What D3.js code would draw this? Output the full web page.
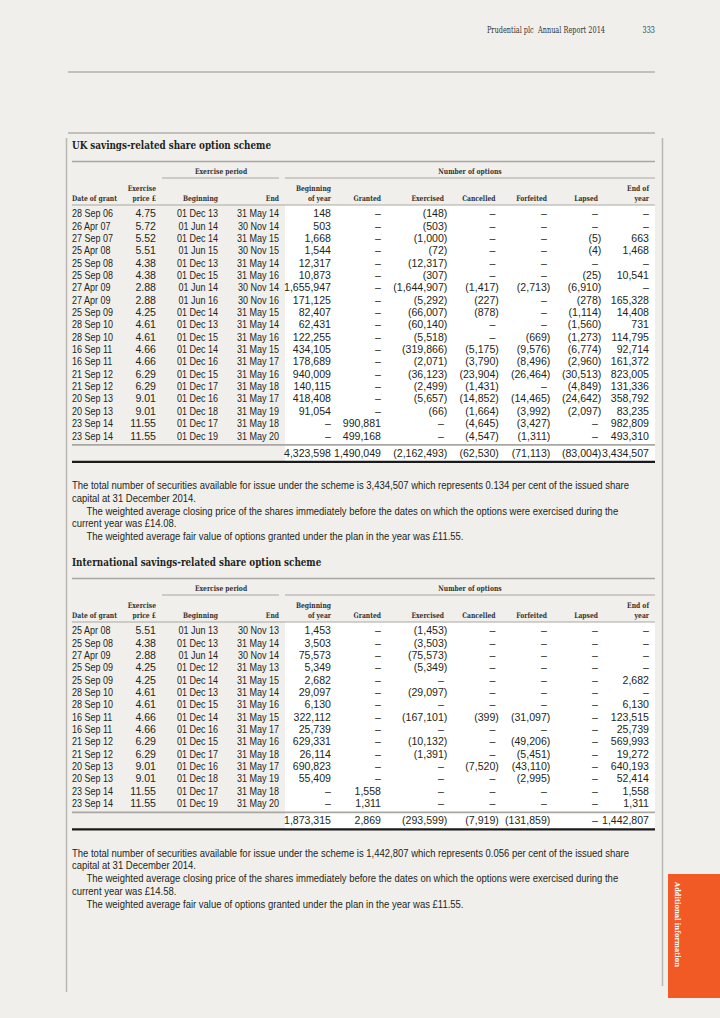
<!DOCTYPE html>
<html>
<head>
<meta charset="utf-8">
<script src="https://cdn.jsdelivr.net/npm/d3@7"></script>
<style>
body{margin:0;background:#f0efeb;}
svg{display:block;}
.num,.date{font-family:"Liberation Sans",Arial,sans-serif;font-size:10.7px;fill:#231f20;}
.para{font-family:"Liberation Sans",Arial,sans-serif;font-size:10.3px;fill:#231f20;}
.head{font-family:"DejaVu Serif",serif;font-weight:bold;font-size:7.6px;fill:#333;}
.title{font-family:"DejaVu Serif",serif;font-weight:bold;font-size:10.8px;fill:#231f20;}
.running{font-family:"DejaVu Serif",serif;font-size:8.4px;fill:#333;}
.tab{font-family:"DejaVu Serif",serif;font-weight:bold;font-size:8px;fill:#fff;}
</style>
</head>
<body>
<div class="top"></div>
<script>
// ---- UK savings-related share option scheme
const ukGrant = ['28 Sep 06','26 Apr 07','27 Sep 07','25 Apr 08','25 Sep 08','25 Sep 08','27 Apr 09','27 Apr 09','25 Sep 09','28 Sep 10','28 Sep 10','16 Sep 11','16 Sep 11','21 Sep 12','21 Sep 12','20 Sep 13','20 Sep 13','23 Sep 14','23 Sep 14']
const ukPrice = [4.75,5.72,5.52,5.51,4.38,4.38,2.88,2.88,4.25,4.61,4.61,4.66,4.66,6.29,6.29,9.01,9.01,11.55,11.55]
const ukBegin = ['01 Dec 13','01 Jun 14','01 Dec 14','01 Jun 15','01 Dec 13','01 Dec 15','01 Jun 14','01 Jun 16','01 Dec 14','01 Dec 13','01 Dec 15','01 Dec 14','01 Dec 16','01 Dec 15','01 Dec 17','01 Dec 16','01 Dec 18','01 Dec 17','01 Dec 19']
const ukEnd = ['31 May 14','30 Nov 14','31 May 15','30 Nov 15','31 May 14','31 May 16','30 Nov 14','30 Nov 16','31 May 15','31 May 14','31 May 16','31 May 15','31 May 17','31 May 16','31 May 18','31 May 17','31 May 19','31 May 18','31 May 20']
const ukBoy = [148,503,1668,1544,12317,10873,1655947,171125,82407,62431,122255,434105,178689,940009,140115,418408,91054,null,null]
const ukGranted = [null,null,null,null,null,null,null,null,null,null,null,null,null,null,null,null,null,990881,499168]
const ukExercised = [-148,-503,-1000,-72,-12317,-307,-1644907,-5292,-66007,-60140,-5518,-319866,-2071,-36123,-2499,-5657,-66,null,null]
const ukCancelled = [null,null,null,null,null,null,-1417,-227,-878,null,null,-5175,-3790,-23904,-1431,-14852,-1664,-4645,-4547]
const ukForfeited = [null,null,null,null,null,null,-2713,null,null,null,-669,-9576,-8496,-26464,null,-14465,-3992,-3427,-1311]
const ukLapsed = [null,null,-5,-4,null,-25,-6910,-278,-1114,-1560,-1273,-6774,-2960,-30513,-4849,-24642,-2097,null,null]
const ukEoy = [null,null,663,1468,null,10541,null,165328,14408,731,114795,92714,161372,823005,131336,358792,83235,982809,493310]
const ukTotals = [4323598,1490049,-2162493,-62530,-71113,-83004,3434507]
const ukNotes = [
	['The total number of securities available for issue under the scheme is 3,434,507 which represents 0.134 per cent of the issued share',0],
	['capital at 31 December 2014.',0],
	['The weighted average closing price of the shares immediately before the dates on which the options were exercised during the',1],
	['current year was £14.08.',0],
	['The weighted average fair value of options granted under the plan in the year was £11.55.',1]
]

// ---- International savings-related share option scheme
const intGrant = ['25 Apr 08','25 Sep 08','27 Apr 09','25 Sep 09','25 Sep 09','28 Sep 10','28 Sep 10','16 Sep 11','16 Sep 11','21 Sep 12','21 Sep 12','20 Sep 13','20 Sep 13','23 Sep 14','23 Sep 14']
const intPrice = [5.51,4.38,2.88,4.25,4.25,4.61,4.61,4.66,4.66,6.29,6.29,9.01,9.01,11.55,11.55]
const intBegin = ['01 Jun 13','01 Dec 13','01 Jun 14','01 Dec 12','01 Dec 14','01 Dec 13','01 Dec 15','01 Dec 14','01 Dec 16','01 Dec 15','01 Dec 17','01 Dec 16','01 Dec 18','01 Dec 17','01 Dec 19']
const intEnd = ['30 Nov 13','31 May 14','30 Nov 14','31 May 13','31 May 15','31 May 14','31 May 16','31 May 15','31 May 17','31 May 16','31 May 18','31 May 17','31 May 19','31 May 18','31 May 20']
const intBoy = [1453,3503,75573,5349,2682,29097,6130,322112,25739,629331,26114,690823,55409,null,null]
const intGranted = [null,null,null,null,null,null,null,null,null,null,null,null,null,1558,1311]
const intExercised = [-1453,-3503,-75573,-5349,null,-29097,null,-167101,null,-10132,-1391,null,null,null,null]
const intCancelled = [null,null,null,null,null,null,null,-399,null,null,null,-7520,null,null,null]
const intForfeited = [null,null,null,null,null,null,null,-31097,null,-49206,-5451,-43110,-2995,null,null]
const intLapsed = [null,null,null,null,null,null,null,null,null,null,null,null,null,null,null]
const intEoy = [null,null,null,null,2682,null,6130,123515,25739,569993,19272,640193,52414,1558,1311]
const intTotals = [1873315,2869,-293599,-7919,-131859,null,1442807]
const intNotes = [
	['The total number of securities available for issue under the scheme is 1,442,807 which represents 0.056 per cent of the issued share',0],
	['capital at 31 December 2014.',0],
	['The weighted average closing price of the shares immediately before the dates on which the options were exercised during the',1],
	['current year was £14.58.',0],
	['The weighted average fair value of options granted under the plan in the year was £11.55.',1]
]

const colKeys = ['grant','price','begin','end','boy','granted','exercised','cancelled','forfeited','lapsed','eoy']
const colHeads = [['Date of grant'],['Exercise','price £'],['Beginning'],['End'],['Beginning','of year'],['Granted'],['Exercised'],['Cancelled'],['Forfeited'],['Lapsed'],['End of','year']]

// layout
const W = 720, H = 1018
const L = 72, R = 655
const xCol = d3.scaleOrdinal().domain(colKeys).range([72,156,218,279,331,381,444,495.5,547,598,649])
const numStart = 285
const pitch = 12.35
const hang = 3.3

const fmtInt = d3.format(',')
const fmtCell = v => v == null ? '–' : v < 0 ? '(' + fmtInt(-v) + ')' : fmtInt(v)

function tableRows(grant, price, begin, end, series){
	return grant.map((g,i)=>({
		cells: [
			{k:'grant', t:g, cls:'date'},
			{k:'price', t:d3.format('.2f')(price[i]), cls:'num'},
			{k:'begin', t:begin[i], cls:'date'},
			{k:'end', t:end[i], cls:'date'},
		].concat(series.map((s,j)=>({k:colKeys[4+j], t:fmtCell(s[i]), cls:'num', neg:s[i]!=null && s[i]<0})))
	}))
}

const tables = [
	{title:'UK savings-related share option scheme', top:145,
	 rows: tableRows(ukGrant, ukPrice, ukBegin, ukEnd, [ukBoy,ukGranted,ukExercised,ukCancelled,ukForfeited,ukLapsed,ukEoy]),
	 totals: ukTotals, notes: ukNotes},
	{title:'International savings-related share option scheme', top:562,
	 rows: tableRows(intGrant, intPrice, intBegin, intEnd, [intBoy,intGranted,intExercised,intCancelled,intForfeited,intLapsed,intEoy]),
	 totals: intTotals, notes: intNotes}
]

const svg = d3.select('.top')
	.selectChildren('svg').data([1])
		.join('svg')
			.attr('width',W)
			.attr('height',H)
			.attr('viewBox',`0 0 ${W} ${H}`)

svg.selectChildren('.bg').data([1])
	.join('rect').attr('class','bg')
		.attr('width',W).attr('height',H)
		.attr('fill','#f0efeb')

// running head
svg.selectChildren('.masthead').data([1])
	.join('g').attr('class','masthead')
		.call(sel=>{
			sel.selectChildren('.rh').data(['Prudential plc  Annual Report 2014'])
				.join('text').attr('class','rh running')
					.attr('x',605).attr('y',30).attr('dy','0.35em')
					.attr('text-anchor','end')
					.style('white-space','pre')
					.text(d=>d)
			sel.selectChildren('.pg').data(['333'])
				.join('text').attr('class','pg running')
					.attr('x',655).attr('y',30).attr('dy','0.35em')
					.attr('text-anchor','end')
					.text(d=>d)
			sel.selectChildren('line').data([72,133])
				.join('line')
					.attr('x1',68).attr('x2',R)
					.attr('y1',d=>d).attr('y2',d=>d)
					.attr('stroke','#b3b1ab')
					.attr('stroke-width',1.5)
		})

// page frame lines
svg.selectChildren('.frame').data([[66.5,138,992],[662.5,138,986]])
	.join('line').attr('class','frame')
		.attr('x1',d=>d[0]).attr('x2',d=>d[0])
		.attr('y1',d=>d[1]).attr('y2',d=>d[2])
		.attr('stroke','#b9b7b1')
		.attr('stroke-width',1.5)

svg.selectChildren('.table').data(tables)
	.join('g').attr('class','table')
		.call(sel=>sel.each(function(tb){
			const g = d3.select(this)
			const T = tb.top
			const n = tb.rows.length
			const y = d3.scaleBand().domain(d3.range(n)).range([T+62.3, T+62.3+n*pitch])
			const last = y(n-1) + y.bandwidth()/2
			const sumY = last + 9, totY = last + 17, thickY = last + 26

			g.selectChildren('.white').data([1])
				.join('rect').attr('class','white')
					.attr('x',numStart).attr('y',T+60)
					.attr('width',R-numStart).attr('height',thickY-T-60)
					.attr('fill','#fff')

			g.selectChildren('.ttl').data([tb.title])
				.join('text').attr('class','ttl title')
					.attr('x',L).attr('y',T).attr('dy','0.35em')
					.text(d=>d)

			// rules
			g.selectChildren('.rule').data([
				{x1:L,x2:R,y:T+16.5,c:'#a9a7a2',w:1.6},
				{x1:162,x2:279,y:T+33,c:'#a9a7a2',w:1},
				{x1:numStart,x2:R,y:T+33,c:'#a9a7a2',w:1},
				{x1:L,x2:R,y:T+60,c:'#a9a7a2',w:1.2},
				{x1:L,x2:R,y:sumY,c:'#a9a7a2',w:1.8},
				{x1:L,x2:R,y:thickY,c:'#1a1a1a',w:2.2}
			])
				.join('line').attr('class','rule')
					.attr('x1',d=>d.x1).attr('x2',d=>d.x2)
					.attr('y1',d=>d.y).attr('y2',d=>d.y)
					.attr('stroke',d=>d.c)
					.attr('stroke-width',d=>d.w)

			g.selectChildren('.grp').data([['Exercise period',221],['Number of options',470]])
				.join('text').attr('class','grp head')
					.attr('x',d=>d[1]).attr('y',T+26.5).attr('dy','0.35em')
					.attr('text-anchor','middle')
					.text(d=>d[0])

			g.selectChildren('.colhead').data(colHeads)
				.join('text').attr('class','colhead head')
					.attr('x',(d,i)=>xCol(colKeys[i]))
					.attr('text-anchor',(d,i)=>i==0?'start':'end')
					.call(t=>t.selectChildren('tspan').data(d=>d.map((s,j)=>({s, j, n:d.length})))
						.join('tspan')
							.attr('x',function(){ return d3.select(this.parentNode).attr('x') })
							.attr('y',d=>T+53-(d.n-1-d.j)*10)
							.attr('dy','0.35em')
							.text(d=>d.s))

			g.selectChildren('.row').data(tb.rows)
				.join('g').attr('class','row')
					.attr('transform',(d,i)=>`translate(0,${y(i)+y.bandwidth()/2})`)
					.selectChildren('text').data(d=>d.cells)
						.join('text')
							.attr('class',d=>d.cls)
							.attr('x',d=>xCol(d.k)+(d.neg?hang:0))
							.attr('dy','0.35em')
							.attr('text-anchor',d=>d.k=='grant'?'start':'end')
							.text(d=>d.t)

			g.selectChildren('.tot').data(tb.totals)
				.join('text').attr('class','tot num')
					.attr('x',(d,i)=>xCol(colKeys[4+i])+(d!=null&&d<0?hang:0))
					.attr('y',totY).attr('dy','0.35em')
					.attr('text-anchor','end')
					.text(d=>fmtCell(d))

			g.selectChildren('.note').data(tb.notes)
				.join('text').attr('class','note para')
					.attr('x',d=>L+(d[1]?14.5:0))
					.attr('y',(d,i)=>thickY+23.7+i*12.75)
					.attr('dy','0.35em')
					.text(d=>d[0])
		}))

// side tab
svg.selectChildren('.sidetab').data(['Additional information'])
	.join('g').attr('class','sidetab')
		.call(sel=>{
			sel.selectChildren('rect').data(d=>[d])
				.join('rect')
					.attr('x',668).attr('y',874)
					.attr('width',52).attr('height',124)
					.attr('fill','#f15a24')
			sel.selectChildren('text').data(d=>[d])
				.join('text').attr('class','tab')
					.attr('transform','translate(677.5,882) rotate(90)')
					.attr('dy','0.35em')
					.text(d=>d)
		})

// the print face is narrower than anything installed: squeeze each style to the measured widths
function squeeze(cls, ref, target){
	const probe = svg.append('text').attr('class',cls).text(ref)
	const k = target / probe.node().getComputedTextLength()
	probe.remove()
	svg.selectAll('text.'+cls).each(function(){
		const w = this.getComputedTextLength()
		d3.select(this).attr('textLength',w*k).attr('lengthAdjust','spacingAndGlyphs')
	})
}
squeeze('num','1,655,947',47)
squeeze('date','28 Sep 06',41)
squeeze('para',ukNotes[0][0],557)
squeeze('head','Date of grant',45)
squeeze('title',tables[0].title,199)
squeeze('running','Prudential plc  Annual Report 2014',116)
squeeze('tab','Additional information',85)
</script>
</body>
</html>
